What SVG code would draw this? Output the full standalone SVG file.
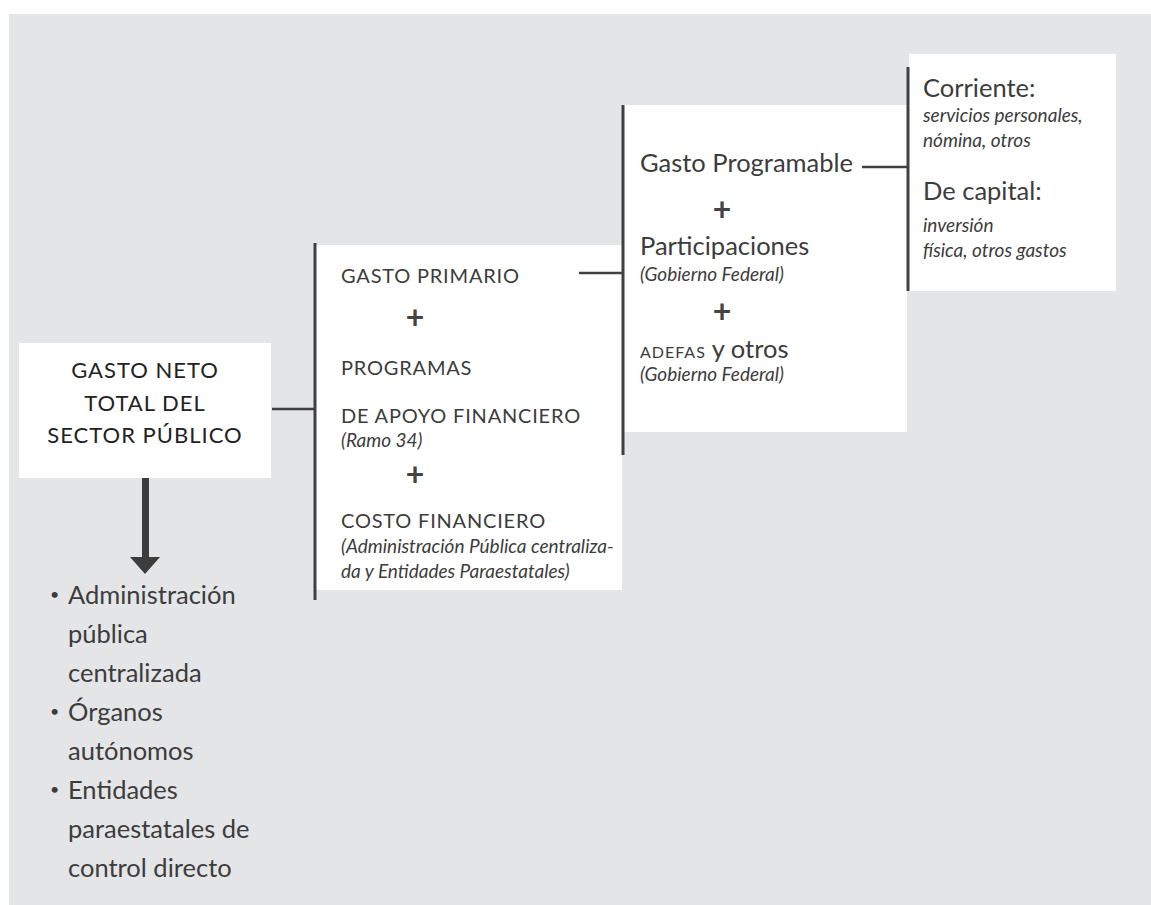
<svg xmlns="http://www.w3.org/2000/svg" width="1151" height="905" viewBox="0 0 1151 905">
<style>
.box{fill:#ffffff}
.bar{stroke:#404040;stroke-width:3;fill:none}
.con{stroke:#404040;stroke-width:2.5;fill:none}
text{font-family:Lato,"Open Sans","DejaVu Sans",sans-serif;fill:#3c3c3c}
.cap{font-size:20px;letter-spacing:0.8px}
.head{font-size:22px;letter-spacing:1px;fill:#222}
.big{font-size:25.5px}
.it{font-size:19px;font-style:italic}
.plus{font-size:32px;font-weight:bold;text-anchor:middle;fill:#444}
.li{font-size:25.5px}
.dot{font-size:16px}
</style>
<rect x="9" y="14" width="1142" height="891" fill="#e4e5e7"/>

<g id="node-gasto-neto">
<rect class="box" x="19" y="343" width="252" height="135"/>
<text class="head" x="145" y="378" text-anchor="middle">GASTO NETO</text>
<text class="head" x="145" y="411" text-anchor="middle">TOTAL DEL</text>
<text class="head" x="145" y="443" text-anchor="middle">SECTOR PÚBLICO</text>
</g>

<g id="node-entidades">
<text class="dot" x="50" y="600">•</text><text class="li" x="68" y="604">Administración</text>
<text class="li" x="68" y="643">pública</text>
<text class="li" x="68" y="682">centralizada</text>
<text class="dot" x="50" y="717">•</text><text class="li" x="68" y="721">Órganos</text>
<text class="li" x="68" y="760">autónomos</text>
<text class="dot" x="50" y="795">•</text><text class="li" x="68" y="799">Entidades</text>
<text class="li" x="68" y="838">paraestatales de</text>
<text class="li" x="68" y="877">control directo</text>
</g>

<g id="node-gasto-primario">
<rect class="box" x="315" y="245" width="307" height="345"/>
<line class="bar" x1="315" y1="243" x2="315" y2="600"/>
<text class="cap" x="341" y="283">GASTO PRIMARIO</text>
<text class="plus" x="415" y="329">+</text>
<text class="cap" x="341" y="375">PROGRAMAS</text>
<text class="cap" x="341" y="423">DE APOYO FINANCIERO</text>
<text class="it" x="341" y="447">(Ramo 34)</text>
<text class="plus" x="415" y="486">+</text>
<text class="cap" x="341" y="528">COSTO FINANCIERO</text>
<text class="it" x="341" y="553">(Administración Pública centraliza-</text>
<text class="it" x="341" y="578">da y Entidades Paraestatales)</text>
</g>

<g id="node-gasto-programable">
<rect class="box" x="624" y="105" width="283" height="327"/>
<line class="bar" x1="623" y1="105" x2="623" y2="455"/>
<text class="big" x="640" y="172">Gasto Programable</text>
<text class="plus" x="722" y="221">+</text>
<text class="big" x="640" y="255">Participaciones</text>
<text class="it" x="640" y="281">(Gobierno Federal)</text>
<text class="plus" x="722" y="323">+</text>
<text class="big" x="640" y="358"><tspan style="font-size:16px;letter-spacing:1px">ADEFAS</tspan> y otros</text>
<text class="it" x="640" y="381">(Gobierno Federal)</text>
</g>

<g id="node-gasto-tipo">
<rect class="box" x="909" y="54" width="207" height="237"/>
<line class="bar" x1="908" y1="67" x2="908" y2="291"/>
<text class="big" x="923" y="97">Corriente:</text>
<text class="it" x="923" y="122">servicios personales,</text>
<text class="it" x="923" y="147">nómina, otros</text>
<text class="big" x="923" y="200">De capital:</text>
<text class="it" x="923" y="232">inversión</text>
<text class="it" x="923" y="257">física, otros gastos</text>
</g>

<g id="connectors">
<line class="con" x1="272" y1="409" x2="315" y2="409"/>
<line class="con" x1="579" y1="273" x2="623" y2="273"/>
<line class="con" x1="862" y1="167" x2="908" y2="167"/>
<rect x="142" y="478" width="7" height="80" fill="#3c3c3c"/>
<polygon points="130,557 160,557 145,574" fill="#3c3c3c"/>
</g>
</svg>
